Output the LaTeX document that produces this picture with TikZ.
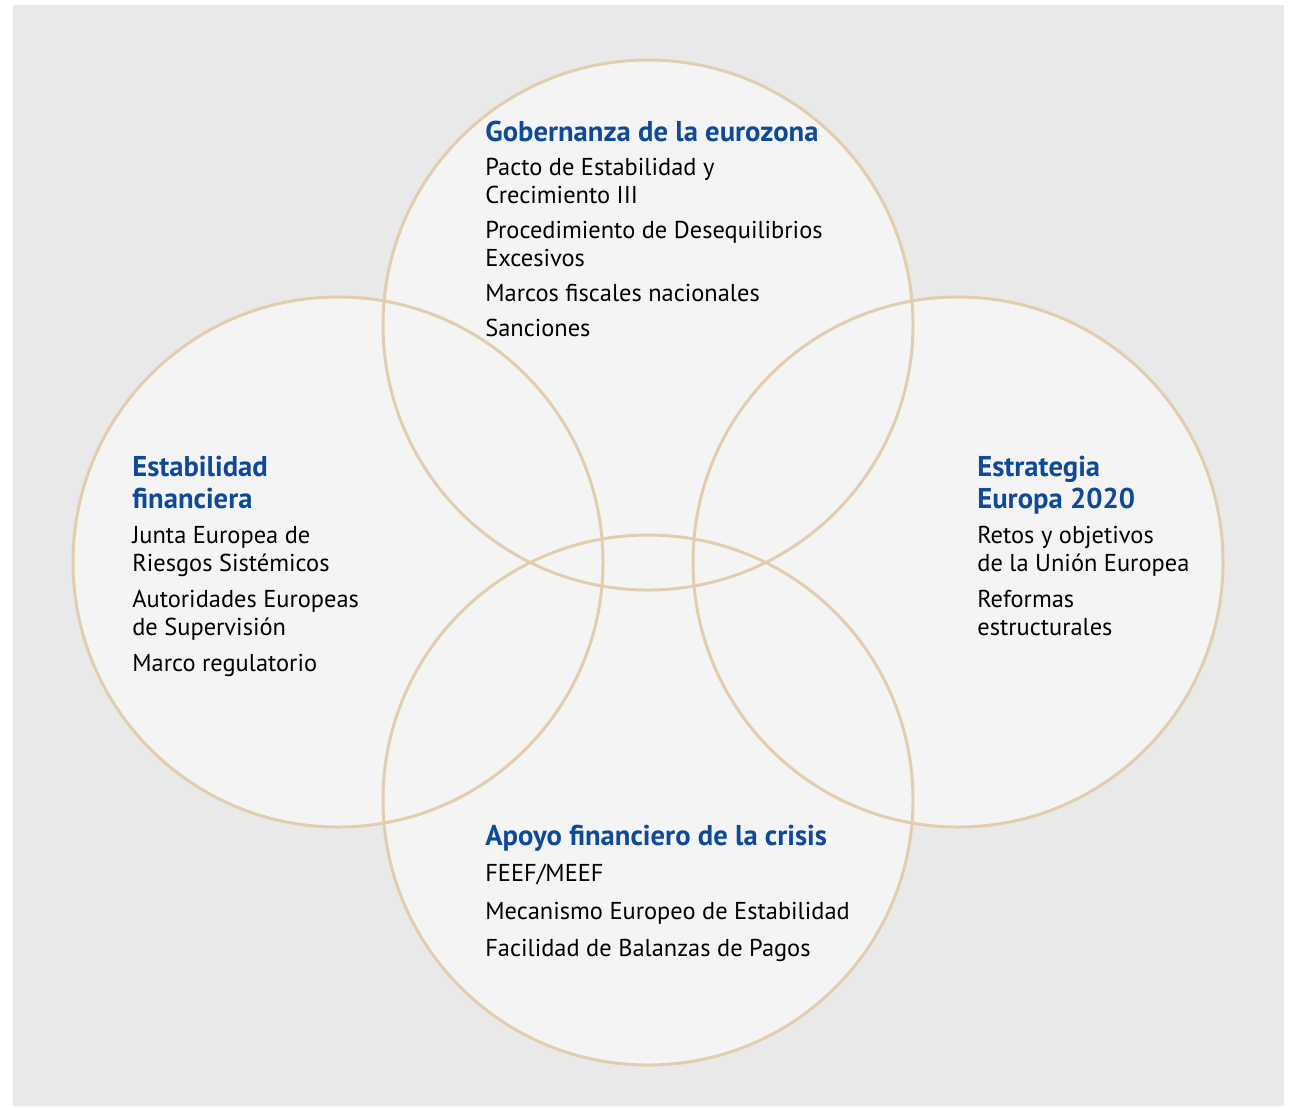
\documentclass[tikz,border=0pt]{standalone}
\usepackage{fontspec}
\setmainfont{PT Sans}
\usepackage{tikz,xcolor}
\usetikzlibrary{calc,positioning}

\definecolor{fondo}{HTML}{E9E9E9}
\definecolor{relleno}{HTML}{F4F4F4}
\definecolor{borde}{HTML}{E2CDAE}
\definecolor{azul}{HTML}{0E4A97}

\tikzset{
  circulo/.style={draw=borde, line width=1.7pt},
  titulo/.style={anchor=north west, inner sep=0pt, align=left, text=azul,
    font=\fontsize{16.3}{18}\selectfont\bfseries},
  texto/.style={anchor=north west, inner sep=0pt, align=left, text=black,
    font=\fontsize{13.9}{15.9}\selectfont}
}

\begin{document}
\begin{tikzpicture}[x=0.02cm, y=-0.02cm]
        \useasboundingbox (0,0) rectangle (1291,1107);
        \fill[fondo] (13,5) rectangle (1284,1106);

        \fill[relleno] (648,325) circle (265) (338,562) circle (265) (958,562) circle (265) (648,800) circle (265);
        \draw[circulo] (648,325) circle (265) (338,562) circle (265) (958,562) circle (265) (648,800) circle (265);

        \node[titulo] (gob) at (485,121) {Gobernanza de la eurozona};
        \node[texto] (gobtxt) at (485,158) {Pacto de Estabilidad y\\Crecimiento III\\[4pt]
          Procedimiento de Desequilibrios\\Excesivos\\[4pt]
          Marcos fiscales nacionales\\[4pt]Sanciones};

        \node[titulo] (estab) at (132,456) {Estabilidad\\financiera};
        \node[texto] (estabtxt) at (132,526) {Junta Europea de\\Riesgos Sistémicos\\[4.8pt]
          Autoridades Europeas\\de Supervisión\\[4.3pt]Marco regulatorio};

        \node[titulo] (estrat) at (977,456) {Estrategia\\Europa 2020};
        \node[texto] (estrattxt) at (977,526) {Retos y objetivos\\de la Unión Europea\\[4.8pt]
          Reformas\\estructurales};

        \node[titulo] (apoyo) at (485,825) {Apoyo financiero de la crisis};
        \node[texto] (apoyotxt) at (485,864) {FEEF/MEEF\\[5.8pt]
          Mecanismo Europeo de Estabilidad\\[5.2pt]Facilidad de Balanzas de Pagos};
    \end{tikzpicture}
\end{document}
